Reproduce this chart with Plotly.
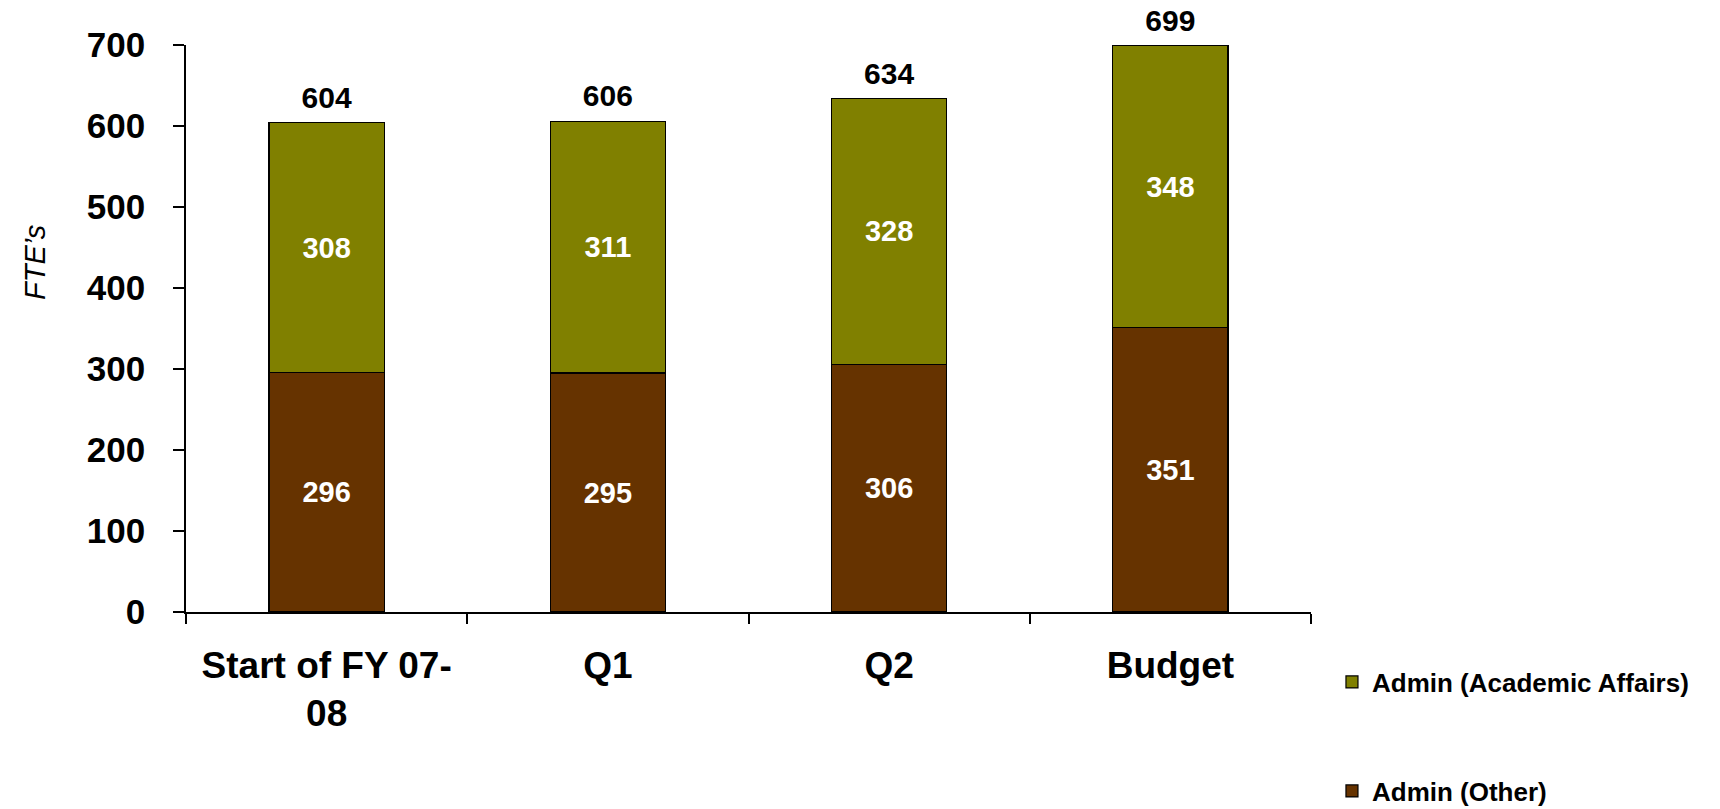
import plotly.graph_objects as go

categories = ["Start of FY 07-<br>08", "Q1", "Q2", "Budget"]
admin_other = [296, 295, 306, 351]
admin_academic = [308, 311, 328, 348]
totals = [604, 606, 634, 699]
y_ticks = [0, 100, 200, 300, 400, 500, 600, 700]

FONT = "Liberation Sans, Arial, sans-serif"

fig = go.Figure()
fig.add_trace(go.Bar(
    x=categories, y=admin_other, name="Admin (Other)",
    marker=dict(color="#663300", line=dict(color="black", width=1.2)),
    text=admin_other, textposition="inside", insidetextanchor="middle",
    textfont=dict(color="white", size=29, family=FONT, weight="bold"),
    legend="legend2",
))
fig.add_trace(go.Bar(
    x=categories, y=admin_academic, name="Admin (Academic Affairs)",
    marker=dict(color="#808000", line=dict(color="black", width=1.2)),
    text=admin_academic, textposition="inside", insidetextanchor="middle",
    textfont=dict(color="white", size=29, family=FONT, weight="bold"),
    legend="legend",
))
fig.add_trace(go.Scatter(
    x=categories, y=totals, mode="markers+text", text=totals,
    marker=dict(size=10, opacity=0),
    textposition="top center", showlegend=False, hoverinfo="skip",
    textfont=dict(color="black", size=30, family=FONT, weight="bold"),
    cliponaxis=False,
))

fig.update_layout(
    width=1720, height=809,
    barmode="stack", bargap=0.59,
    plot_bgcolor="white", paper_bgcolor="white",
    margin=dict(l=186, r=409, t=45, b=197, autoexpand=False),
    font=dict(family=FONT, color="black"),
    uniformtext=dict(mode="show", minsize=10),
    xaxis=dict(
        automargin=False,
        showline=True, linecolor="black", linewidth=1.5,
        ticks="outside", tickson="boundaries", ticklen=10, tickcolor="black", tickwidth=1.5,
        tickfont=dict(size=37, family=FONT, weight="bold", color="black"),
        ticklabelstandoff=20,
        showgrid=False,
    ),
    yaxis=dict(
        automargin=False,
        range=[0, 700], tickvals=y_ticks,
        showline=True, linecolor="black", linewidth=1.5,
        ticks="outside", ticklen=11, tickcolor="black", tickwidth=1.5,
        tickfont=dict(size=35, family=FONT, weight="bold", color="black"),
        ticklabelstandoff=21,
        showgrid=False, zeroline=False,
    ),
    legend=dict(
        xref="container", yref="container",
        x=0.7744, y=0.157, xanchor="left", yanchor="middle",
        font=dict(size=26, family=FONT, weight="bold", color="black"),
        bgcolor="rgba(0,0,0,0)",
    ),
    legend2=dict(
        xref="container", yref="container",
        x=0.7744, y=0.0222, xanchor="left", yanchor="middle",
        font=dict(size=26, family=FONT, weight="bold", color="black"),
        bgcolor="rgba(0,0,0,0)",
    ),
    annotations=[dict(
        text="FTE’s", textangle=-90, xref="paper", yref="paper",
        x=(35 - 186) / 1125, y=(612 - 263) / 567, xanchor="center", yanchor="middle",
        showarrow=False, font=dict(size=29, family=FONT, color="black", style="italic"),
    )],
)

fig.write_html(
    "out.html",
    config={"displayModeBar": False},
    post_script="document.body.style.margin='0px';",
)
